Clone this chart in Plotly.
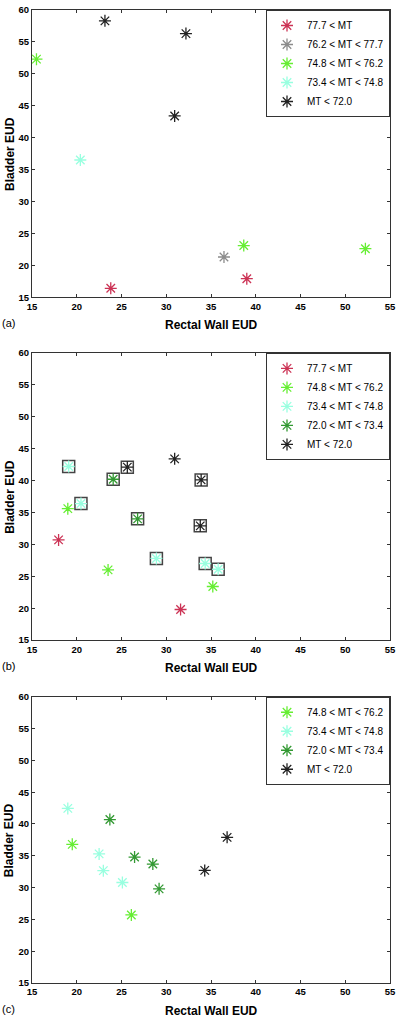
import plotly.graph_objects as go

# ---------------- data ----------------
# Panel (a)
a_labels = ["77.7 < MT", "76.2 < MT < 77.7", "74.8 < MT < 76.2", "73.4 < MT < 74.8", "MT < 72.0"]
a_x = [[23.8, 39.0], [36.45], [15.5, 38.66, 52.25], [20.4], [23.15, 32.2, 30.94]]
a_y = [[16.4, 17.9], [21.3], [52.3, 23.1, 22.6], [36.5], [58.3, 56.3, 43.4]]
a_colors = ["#cc3355", "#8c8c8c", "#66ee33", "#99ffe0", "#222222"]

# Panel (b)
b_labels = ["77.7 < MT", "74.8 < MT < 76.2", "73.4 < MT < 74.8", "72.0 < MT < 73.4", "MT < 72.0"]
b_x = [[17.97, 31.6], [19.0, 23.5, 35.2], [19.1, 20.47, 28.9, 34.35, 35.8], [24.07, 26.8], [30.94, 25.65, 33.9, 33.8]]
b_y = [[30.7, 19.8], [35.6, 26.0, 23.4], [42.2, 36.4, 27.8, 27.0, 26.1], [40.2, 34.0], [43.4, 42.1, 40.1, 32.9]]
b_boxed = [[False, False], [False, False, False], [True, True, True, True, True], [True, True], [False, True, True, True]]
b_colors = ["#cc3355", "#66ee33", "#99ffe0", "#339933", "#222222"]

# Panel (c)
c_labels = ["74.8 < MT < 76.2", "73.4 < MT < 74.8", "72.0 < MT < 73.4", "MT < 72.0"]
c_x = [[19.5, 26.1], [19.0, 22.5, 22.97, 25.1], [23.7, 26.46, 28.5, 29.2], [36.8, 34.3]]
c_y = [[36.8, 25.7], [42.45, 35.3, 32.66, 30.8], [40.7, 34.8, 33.7, 29.8], [37.9, 32.7]]
c_colors = ["#66ee33", "#99ffe0", "#339933", "#222222"]

x_ticks = [15, 20, 25, 30, 35, 40, 45, 50, 55]
y_ticks = [15, 20, 25, 30, 35, 40, 45, 50, 55, 60]
panel_tags = ["(a)", "(b)", "(c)"]

# ---------------- figure ----------------
W, H = 400, 1017
L, R, T, B = 32, 5, 4, 34
plot_h = H - T - B
# pixel tops/bottoms of each panel
panels_px = [(4, 293), (349, 638), (695, 983)]


def py2paper(p):
    return (H - B - p) / plot_h


fig = go.Figure()
FONT = "Liberation Sans, Arial, sans-serif"

panel_data = [
    (a_labels, a_x, a_y, a_colors, None),
    (b_labels, b_x, b_y, b_colors, b_boxed),
    (c_labels, c_x, c_y, c_colors, None),
]

for i, (labels, xs, ys, cols, boxed) in enumerate(panel_data):
    xa = "x" if i == 0 else f"x{i+1}"
    ya = "y" if i == 0 else f"y{i+1}"
    lg = "legend" if i == 0 else f"legend{i+1}"
    if boxed is not None:
        bx, by = [], []
        for gx, gy, gb in zip(xs, ys, boxed):
            for xv, yv, bv in zip(gx, gy, gb):
                if bv:
                    bx.append(xv)
                    by.append(yv)
        fig.add_trace(go.Scatter(
            x=bx, y=by, mode="markers", xaxis=xa, yaxis=ya, showlegend=False,
            marker=dict(symbol="square-open", size=12, color="#444444", line=dict(width=1.5, color="#444444")),
            hoverinfo="skip"))
    for lab, gx, gy, col in zip(labels, xs, ys, cols):
        fig.add_trace(go.Scatter(
            x=gx, y=gy, mode="markers", name=lab, xaxis=xa, yaxis=ya, legend=lg,
            marker=dict(symbol="asterisk-open", size=10, color=col, line=dict(width=1.3, color=col))))

layout = dict(
    width=W, height=H, margin=dict(l=L, r=R, t=T, b=B),
    paper_bgcolor="white", plot_bgcolor="white", showlegend=True,
    font=dict(family=FONT, color="#000000"),
)
axis_common = dict(
    showgrid=False, zeroline=False, showline=True, linecolor="#333333", linewidth=1,
    mirror="ticks", ticks="inside", ticklen=3, tickcolor="#333333",
    tickfont=dict(size=9.5, family=FONT, weight="bold"), ticklabeloverflow="allow",
)
annotations = []
for i, (ptop, pbot) in enumerate(panels_px):
    sfx = "" if i == 0 else str(i + 1)
    d0, d1 = py2paper(pbot), py2paper(ptop)
    layout["xaxis" + sfx] = dict(axis_common, range=[15, 55], tickvals=x_ticks, domain=[0, 1],
                                 anchor="y" + sfx)
    layout["yaxis" + sfx] = dict(axis_common, range=[15, 60], tickvals=y_ticks, domain=[d0, d1],
                                 anchor="x" + sfx)
    layout["legend" + sfx] = dict(
        x=1, xanchor="right", y=d1, yanchor="top", xref="paper", yref="paper",
        bgcolor="white", bordercolor="#333333", borderwidth=1,
        font=dict(size=10, family=FONT), tracegroupgap=0, itemwidth=30,
    )
    # x-axis title
    annotations.append(dict(text="<b>Rectal Wall EUD</b>", xref="paper", yref="paper",
                            x=0.5, y=py2paper(pbot + 28), xanchor="center", yanchor="middle",
                            showarrow=False, font=dict(size=12, family=FONT)))
    # y-axis title
    annotations.append(dict(text="<b>Bladder EUD</b>", xref="paper", yref="paper",
                            x=-(L - 9) / (W - L - R), y=(d0 + d1) / 2, xanchor="center", yanchor="middle",
                            textangle=-90, showarrow=False, font=dict(size=12, family=FONT)))
    # panel tag
    annotations.append(dict(text=panel_tags[i], xref="paper", yref="paper",
                            x=-L / (W - L - R), y=py2paper(pbot + 26), xanchor="left", yanchor="middle",
                            showarrow=False, font=dict(size=11, family=FONT)))
layout["annotations"] = annotations
fig.update_layout(**layout)

fig.write_html("out.html", config={"displayModeBar": False},
               post_script="document.body.style.margin='0';document.body.style.overflow='hidden';")
